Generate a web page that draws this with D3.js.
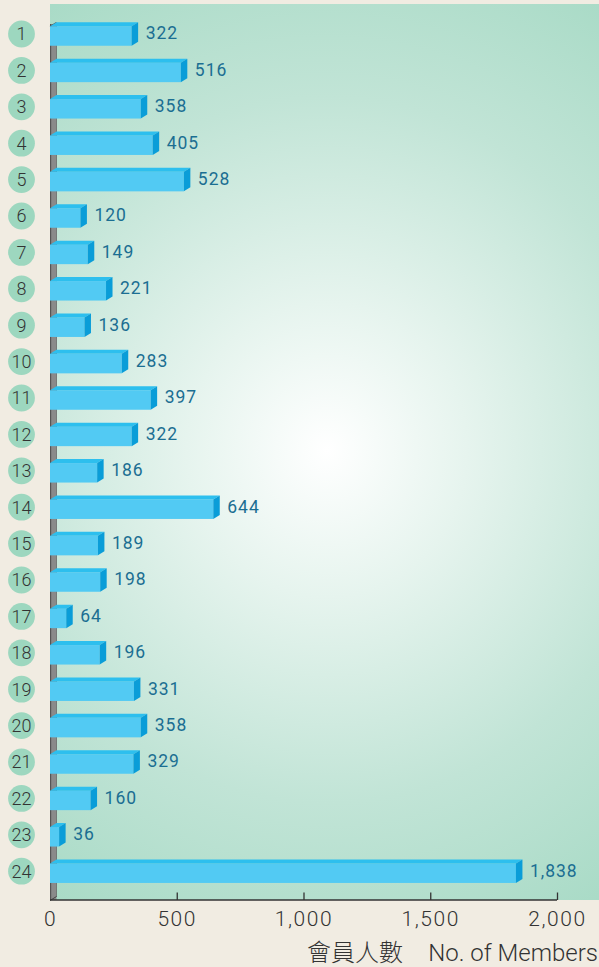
<!DOCTYPE html>
<html>
<head>
<meta charset="utf-8">
<script src="https://cdn.jsdelivr.net/npm/d3@7"></script>
<style>
html,body{margin:0;padding:0;background:#f1ece2;}
svg{display:block;}
</style>
</head>
<body>
<svg id="chart" width="599" height="967"></svg>
<script>
const categories = ["1","2","3","4","5","6","7","8","9","10","11","12","13","14","15","16","17","18","19","20","21","22","23","24"];
const members = [322,516,358,405,528,120,149,221,136,283,397,322,186,644,189,198,64,196,331,358,329,160,36,1838];
const tickValues = [0,500,1000,1500,2000];
const axisTitleZh = "會員人數";
const axisTitleEn = "No. of Members";

const svg = d3.select("#chart");
const W = 599, H = 967;
const x = d3.scaleLinear().domain([0,2000]).range([50,557]);
const y = d3.scalePoint().domain(categories).range([36,873.2]);

const defs = svg.append("defs");
const grad = defs.append("radialGradient")
  .attr("id","bg").attr("gradientUnits","userSpaceOnUse")
  .attr("cx",327).attr("cy",450).attr("r",560)
  .attr("gradientTransform","translate(327,450) scale(1,1.05) translate(-327,-450)");
grad.append("stop").attr("offset",0).attr("stop-color","#ffffff");
grad.append("stop").attr("offset",0.25).attr("stop-color","#e6f4ee");
grad.append("stop").attr("offset",0.6).attr("stop-color","#c1e4d6");
grad.append("stop").attr("offset",1).attr("stop-color","#a2d8c2");

// panel
svg.append("rect").attr("x",50).attr("y",4).attr("width",W-50).attr("height",896).attr("fill","url(#bg)");

// wall (left 3D side)
const wallX0 = x(0), wallX1 = x(0)+6.5;
svg.append("rect").attr("x",wallX0).attr("y",24).attr("width",6.5).attr("height",876).attr("fill","#8a8a8a");
svg.append("line").attr("x1",wallX0+0.6).attr("x2",wallX0+0.6).attr("y1",24).attr("y2",900).attr("stroke","#555").attr("stroke-width",1.2);
svg.append("line").attr("x1",wallX1).attr("x2",wallX1).attr("y1",24).attr("y2",897).attr("stroke","#6a6a6a").attr("stroke-width",0.8);
svg.append("line").attr("x1",wallX0).attr("y1",900.5).attr("x2",wallX1).attr("y2",896.5).attr("stroke","#444").attr("stroke-width",1);
svg.append("line").attr("x1",wallX0).attr("y1",26.5).attr("x2",wallX1).attr("y2",22.5).attr("stroke","#555").attr("stroke-width",1.2);

// axis
const axisY = 900;
const axis = d3.axisBottom(x).tickValues(tickValues).tickSize(0).tickFormat(d3.format(","));
const gAxis = svg.append("g").attr("transform",`translate(0,${axisY})`).call(axis);
gAxis.select(".domain").remove();
gAxis.append("line").attr("x1",x(0)).attr("x2",x(2000)).attr("y1",0).attr("y2",0).attr("stroke","#333").attr("stroke-width",1.6);
gAxis.selectAll(".tick").filter(d=>d>0).append("line").attr("y1",0).attr("y2",-7.5).attr("stroke","#333").attr("stroke-width",1.3);
gAxis.selectAll(".tick text")
  .attr("y",18).attr("dy","0.36em")
  .attr("fill","#333")
  .style("font-family","Roboto, 'Liberation Sans', sans-serif")
  .style("font-weight","300")
  .style("font-size","21px")
  .style("letter-spacing","1.6px");

// axis title
svg.append("text").attr("x",598).attr("y",961).attr("text-anchor","end")
  .attr("fill","#333").style("font-family","Roboto, 'Liberation Sans', sans-serif").style("font-weight","300").style("font-size","24px")
  .text(axisTitleEn);
svg.append("text").attr("x",403).attr("y",961).attr("text-anchor","end")
  .attr("fill","#333").style("font-family","'Noto Sans CJK TC', sans-serif").style("font-weight","300").style("font-size","24px")
  .text(axisTitleZh);

// bars
const hFront = 19.5, dx = 6.5, dy = 4;
const data = categories.map((c,i)=>({c, v: members[i]}));
const g = svg.append("g");
const bar = g.selectAll("g.bar").data(data).enter().append("g").attr("class","bar");

bar.append("rect")
  .attr("x",x(0)).attr("y",d=>y(d.c)-hFront/2)
  .attr("width",d=>x(d.v)-x(0)).attr("height",hFront)
  .attr("fill","#52caf3");
bar.append("path")
  .attr("d",d=>{const x0=x(0),x1=x(d.v),yt=y(d.c)-hFront/2;
    return `M${x0},${yt}L${x1},${yt}L${x1+dx},${yt-dy}L${x0+dx},${yt-dy}Z`;})
  .attr("fill","#2dbfee");
bar.append("path")
  .attr("d",d=>{const x1=x(d.v),yt=y(d.c)-hFront/2,yb=y(d.c)+hFront/2;
    return `M${x1},${yt}L${x1+dx},${yt-dy}L${x1+dx},${yb-dy}L${x1},${yb}Z`;})
  .attr("fill","#0a9dd8");

// value labels
bar.append("text")
  .attr("x",d=>x(d.v)+dx+7.5).attr("y",d=>y(d.c)-3).attr("dy","0.36em")
  .attr("fill","#1b6e92")
  .style("font-family","Roboto, 'Liberation Sans', sans-serif")
  .style("font-size","17.5px").style("letter-spacing","1px")
  .text(d=>d3.format(",")(d.v));

// category circles
const cg = svg.append("g");
cg.selectAll("circle").data(categories).enter().append("circle")
  .attr("cx",21.5).attr("cy",d=>y(d)-2).attr("r",13.4).attr("fill","#9dd7bf");
cg.selectAll("text").data(categories).enter().append("text")
  .attr("x",21.5).attr("y",d=>y(d)-2).attr("dy","0.36em").attr("text-anchor","middle")
  .attr("fill","#333").style("font-family","Roboto, 'Liberation Sans', sans-serif").style("font-weight","300").style("font-size","18px")
  .text(d=>d);
</script>
</body>
</html>
